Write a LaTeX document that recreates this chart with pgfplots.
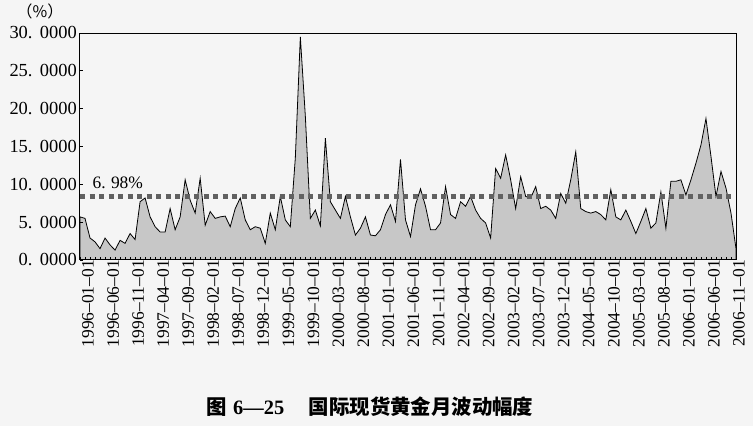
\documentclass[border=0pt]{standalone}
\usepackage{pgfplots}
\pgfplotsset{compat=1.18}
\usepackage{pgfplotstable}
\usepackage{fontspec}
\setmainfont{Liberation Serif}
\newfontfamily\cjk{Noto Sans CJK SC}

% monthly volatility, 1996-01 ... 2006-12 (month index i)
\pgfplotstableread{
i v
0 5.7
1 5.5
2 2.9
3 2.4
4 1.5
5 2.9
6 2.0
7 1.3
8 2.6
9 2.2
10 3.5
11 2.7
12 7.7
13 8.2
14 5.7
15 4.4
16 3.7
17 3.7
18 6.8
19 4.0
20 5.7
21 10.6
22 7.9
23 6.2
24 10.8
25 4.6
26 6.4
27 5.5
28 5.7
29 5.8
30 4.4
31 6.8
32 8.2
33 5.3
34 4.0
35 4.4
36 4.2
37 2.2
38 6.2
39 4.0
40 8.4
41 5.3
42 4.4
43 13.5
44 29.5
45 19.0
46 5.5
47 6.6
48 4.5
49 16.1
50 7.7
51 6.6
52 5.5
53 8.4
54 5.7
55 3.3
56 4.2
57 5.7
58 3.3
59 3.2
60 4.0
61 6.0
62 7.3
63 5.1
64 13.3
65 5.3
66 3.1
67 7.3
68 9.4
69 7.1
70 4.0
71 4.0
72 4.9
73 9.7
74 6.0
75 5.5
76 7.7
77 7.1
78 8.4
79 6.6
80 5.5
81 4.9
82 2.9
83 12.1
84 10.8
85 13.9
86 10.6
87 6.8
88 11.0
89 8.4
90 8.2
91 9.7
92 6.8
93 7.1
94 6.6
95 5.5
96 8.8
97 7.5
98 10.6
99 14.3
100 6.8
101 6.4
102 6.2
103 6.4
104 6.0
105 5.3
106 9.3
107 5.7
108 5.3
109 6.6
110 5.1
111 3.5
112 5.1
113 6.8
114 4.2
115 4.9
116 9.0
117 4.2
118 10.4
119 10.4
120 10.6
121 8.6
122 10.6
123 12.8
124 15.2
125 18.7
126 13.7
127 8.4
128 11.7
129 9.5
130 6.2
131 1.5
}\vol

\begin{document}
\begin{tikzpicture}
    \fill[black!4] (0bp,0bp) rectangle (753bp,426bp);
    \begin{axis}[
        at={(80bp,166bp)},anchor=south west,
        width=656bp,height=227bp,scale only axis,
        xmin=0,xmax=131,ymin=0,ymax=30,
        axis on top,
        axis line style={black,line width=1bp},
        tick align=inside,tick pos=left,
        major tick length=3bp,minor tick length=3bp,
        tick style={black,line width=0.8bp},
        ytick={0,5,...,30},
        yticklabels={0.\hspace{0.4em}0000,5.\hspace{0.4em}0000,10.\hspace{0.4em}0000,15.\hspace{0.4em}0000,20.\hspace{0.4em}0000,25.\hspace{0.4em}0000,30.\hspace{0.4em}0000},
        yticklabel style={font=\fontsize{18.5}{20}\selectfont,inner sep=0pt,xshift=-3bp},
        xtick={0,5,...,130},
        minor xtick={0,...,131},
        xticklabels={1996--01--01,1996--06--01,1996--11--01,1997--04--01,1997--09--01,1998--02--01,1998--07--01,1998--12--01,1999--05--01,1999--10--01,2000--03--01,2000--08--01,2001--01--01,2001--06--01,2001--11--01,2002--04--01,2002--09--01,2003--02--01,2003--07--01,2003--12--01,2004--05--01,2004--10--01,2005--03--01,2005--08--01,2006--01--01,2006--06--01,2006--11--01},
        xticklabel style={font=\fontsize{17.5}{20}\selectfont,rotate=90,anchor=east,inner sep=0pt,yshift=-8bp},
    ]
        \addplot[draw=black,line width=0.8bp,fill=black!22] table[x=i,y=v]{\vol} \closedcycle;
        \addplot[black!62,line width=4.5bp,dash pattern=on 5bp off 4.5bp] coordinates {(0,8.4) (130,8.4)};
        \node[anchor=west,inner sep=0pt,font=\fontsize{17.5}{20}\selectfont] at (axis cs:2.5,10.2) {6.\hspace{0.3em}98\%};
    \end{axis}
    \node[font=\fontsize{16}{18}\selectfont\cjk] at (40bp,415bp) {（\%）};
    \node[font=\fontsize{20.5}{24}\selectfont] at (370bp,19bp)
        {{\cjk\bfseries 图}\hspace{0.3em}\textbf{6—25}\hspace{1.2em}{\cjk\bfseries 国际现货黄金月波动幅度}};
\end{tikzpicture}
\end{document}
